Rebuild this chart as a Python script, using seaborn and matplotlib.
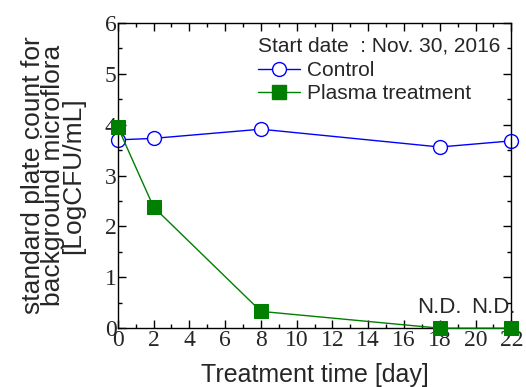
import numpy as np
import pandas as pd
import matplotlib
matplotlib.use("Agg")
import matplotlib.pyplot as plt
import seaborn as sns
from matplotlib.ticker import MultipleLocator

# data
days = [0, 2, 8, 18, 22]
control = [3.70, 3.73, 3.91, 3.56, 3.68]
plasma = [3.95, 2.38, 0.33, 0.0, 0.0]
nd_days = [18, 22]
x_ticks = [0, 2, 4, 6, 8, 10, 12, 14, 16, 18, 20, 22]

df = pd.DataFrame({
    "day": days * 2,
    "value": control + plasma,
    "group": ["Control"] * len(days) + ["Plasma treatment"] * len(days),
})

sns.set_theme(style="ticks")
plt.rcParams["font.family"] = ["Liberation Sans", "DejaVu Sans"]

fig = plt.figure(figsize=(5.26, 3.87), dpi=100)
ax = fig.add_axes([0.224, 0.152, 0.748, 0.789])

sns.lineplot(data=df, x="day", y="value", hue="group", style="group",
             palette={"Control": "#0000ff", "Plasma treatment": "#007f00"},
             markers={"Control": "o", "Plasma treatment": "s"}, dashes=False,
             linewidth=1.0, ax=ax, legend=False)

# marker styling
lines = ax.get_lines()
lines[0].set_markerfacecolor("white")
lines[0].set_markeredgecolor("#0000ff")
lines[0].set_markersize(10)
lines[0].set_markeredgewidth(1.0)
lines[1].set_markerfacecolor("#007f00")
lines[1].set_markeredgecolor("#007f00")
lines[1].set_markersize(10)
lines[1].set_zorder(3)
for ln in lines:
    ln.set_clip_on(False)

ax.set_xlim(0, 22)
ax.set_ylim(0, 6)
ax.set_xticks(x_ticks)
ax.xaxis.set_minor_locator(MultipleLocator(1))
ax.yaxis.set_major_locator(MultipleLocator(1))
ax.yaxis.set_minor_locator(MultipleLocator(0.5))
ax.tick_params(which="both", direction="in", top=True, right=True, color="black")
ax.tick_params(which="major", length=6, width=1, labelsize=17, pad=1)
ax.tick_params(which="minor", length=3, width=1)
for lab in ax.get_xticklabels() + ax.get_yticklabels():
    lab.set_family("Liberation Serif")
for s in ax.spines.values():
    s.set_color("black")
    s.set_linewidth(1)

ax.set_xlabel("Treatment time [day]", fontsize=18, labelpad=9)
ax.set_ylabel("standard plate count for\nbackground microflora\n[LogCFU/mL]",
              fontsize=19, labelpad=14, linespacing=0.8)

for d in nd_days:
    ax.text(d if d < 22 else 21.0, 0.2, "N.D.", ha="center", va="bottom", fontsize=16)

handles = [
    plt.Line2D([], [], color="#0000ff", lw=1, marker="o", markersize=10,
               markerfacecolor="white", markeredgecolor="#0000ff"),
    plt.Line2D([], [], color="#007f00", lw=1, marker="s", markersize=10,
               markerfacecolor="#007f00"),
]
leg = ax.legend(handles, ["Control", "Plasma treatment"], loc="upper left",
                bbox_to_anchor=(0.357, 0.955), frameon=False, fontsize=15,
                title="Start date  : Nov. 30, 2016", title_fontsize=15,
                handlelength=2.0, handletextpad=0.35, labelspacing=0.2,
                borderpad=0.0, borderaxespad=0.0)
leg._legend_box.align = "left"
leg._legend_box.sep = 4

fig.savefig("out.png", dpi=100)
